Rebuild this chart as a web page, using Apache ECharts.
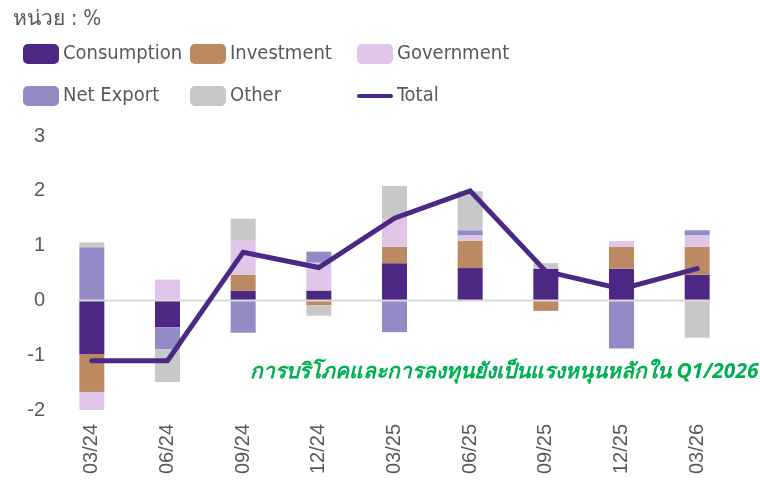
<!DOCTYPE html>
<html>
<head>
<meta charset="utf-8">
<script src="https://cdn.jsdelivr.net/npm/echarts@6/dist/echarts.min.js"></script>
<style>
  html, body { margin: 0; padding: 0; background: #ffffff; }
  #chart { width: 760px; height: 496px; }
</style>
</head>
<body>
<div id="chart"></div>
<script>
// quarters
const categories = ["03/24", "06/24", "09/24", "12/24", "03/25", "06/25", "09/25", "12/25", "03/26"];

// contributions, % pt
const consumption = [-0.98, -0.49, 0.18, 0.18, 0.68, 0.59, 0.58, 0.58, 0.47];
const investment = [-0.69, 0, 0.29, -0.09, 0.30, 0.50, -0.19, 0.40, 0.51];
const government = [-0.34, 0.38, 0.62, 0.51, 0.52, 0.10, 0, 0.10, 0.21];
const netExport = [0.97, -0.40, -0.59, 0.20, -0.58, 0.09, 0, -0.88, 0.09];
const other = [0.09, -0.60, 0.40, -0.19, 0.59, 0.71, 0.10, 0, -0.68];
const total = [-1.10, -1.10, 0.88, 0.60, 1.50, 2.00, 0.53, 0.21, 0.58];

const yTicks = [-2, -1, 0, 1, 2, 3];

const colors = {
  Consumption: "#4b2884",
  Investment: "#bc8a62",
  Government: "#dfc6e9",
  "Net Export": "#948bc6",
  Other: "#c8c8c8",
  Total: "#4b2884",
};

const textColor = "#595959";
const legendFont = "'DejaVu Sans Condensed', 'Roboto', sans-serif";
const barRatio = 0.33;

const chart = echarts.init(document.getElementById("chart"));

function barSeries(name, data) {
  return {
    name: name,
    type: "bar",
    stack: "gdp",
    data: data,
    barWidth: barRatio * 100 + "%",
    itemStyle: { color: colors[name] },
  };
}

const legendCommon = {
  orient: "vertical",
  top: 44,
  padding: 0,
  itemWidth: 36,
  itemHeight: 20,
  itemGap: 22,
  textStyle: { color: textColor, fontSize: 20, fontFamily: legendFont, padding: [0, 0, 0, -1] },
};

chart.setOption({
  animation: false,
  title: {
    text: "หน่วย : %",
    left: 8,
    top: 4,
    textStyle: { color: textColor, fontSize: 21, fontWeight: "normal", fontFamily: legendFont },
  },
  legend: [
    Object.assign({ left: 23, data: ["Consumption", "Net Export"] }, legendCommon),
    Object.assign({ left: 190, data: ["Investment", "Other"] }, legendCommon),
    Object.assign({
      left: 357,
      data: ["Government", { name: "Total", icon: "path://M2,8 L34,8 A2,2 0 0 1 34,12 L2,12 A2,2 0 0 1 2,8 Z" }],
    }, legendCommon),
  ],
  grid: { left: 54, right: 25, top: 136, bottom: 86 },
  xAxis: [
    {
      type: "category",
      data: categories,
      axisLine: { show: false },
      axisTick: { show: false },
      axisLabel: { rotate: 90, color: textColor, fontSize: 20, margin: 14 },
    },
    {
      type: "value",
      min: -0.5,
      max: categories.length - 0.5,
      show: false,
    },
  ],
  yAxis: {
    type: "value",
    min: yTicks[0],
    max: yTicks[yTicks.length - 1],
    interval: 1,
    splitLine: { show: false },
    axisLine: { show: false },
    axisTick: { show: false },
    axisLabel: { color: textColor, fontSize: 20, margin: 9 },
  },
  graphic: [
    {
      type: "text",
      left: 250,
      top: 362,
      style: {
        text: "การบริโภคและการลงทุนยังเป็นแรงหนุนหลักใน Q1/2026",
        fill: "#00b050",
        font: "italic bold 21px 'Noto Sans', sans-serif",
      },
    },
  ],
  series: [
    barSeries("Consumption", consumption),
    barSeries("Investment", investment),
    barSeries("Government", government),
    barSeries("Net Export", netExport),
    barSeries("Other", other),
    {
      // zero line, spanning first to last bar edge
      name: "zero",
      type: "line",
      xAxisIndex: 1,
      z: 3,
      symbol: "none",
      silent: true,
      lineStyle: { color: "#d9d9d9", width: 2 },
      data: [[-barRatio / 2 - 0.02, 0], [categories.length - 1 + barRatio / 2, 0]],
    },
    {
      name: "Total",
      type: "line",
      z: 4,
      data: total,
      symbol: "none",
      lineStyle: { color: colors.Total, width: 5, cap: "round", join: "miter" },
      itemStyle: { color: colors.Total },
    },
  ],
});
</script>
</body>
</html>
